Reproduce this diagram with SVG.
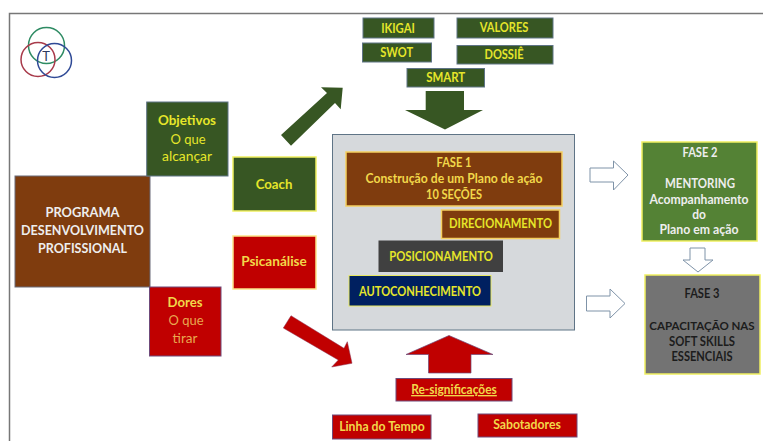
<svg xmlns="http://www.w3.org/2000/svg" width="763" height="441" viewBox="0 0 763 441">
<style>
text{font-family:"Lato","Carlito","Liberation Sans",sans-serif;text-anchor:middle;font-size:13.5px;font-weight:700}
.y{fill:#e6e62a}.o{fill:#f2d84a}.w{fill:#eeeeee}.k{fill:#1c1c1c}.t{fill:#e8a850}
.g{fill:#375623;stroke:#5f7486;stroke-width:1}
.gy{fill:#375623;stroke:#f0f060;stroke-width:1.5}
.r{fill:#c00000;stroke:#6f4a7a;stroke-width:1}
.ry{fill:#c00000;stroke:#fbe58a;stroke-width:1.5}
.b{fill:#7f3c0e;stroke:#6a6a78;stroke-width:1}
.by{fill:#7f3c0e;stroke:#f5d060;stroke-width:1.5}
.h{fill:#fff;stroke:#7f93a8;stroke-width:1}
.n{font-weight:400}
</style>
<rect width="763" height="441" fill="#fff"/>
<path d="M9.500 441V13.500H763" fill="none" stroke="#777" stroke-width="1.500"/>
<g id="logo" fill="none" stroke-width="1.500">
<circle cx="46.500" cy="45.500" r="18" stroke="#2e8b63"/>
<circle cx="38" cy="59.500" r="17" stroke="#a83a4a"/>
<circle cx="54.500" cy="60.500" r="17" stroke="#2f4a96"/>
<text x="46" y="61" style="font-size:13px;font-weight:400" fill="#2f3a60">T</text>
</g>
<g id="connectors">
<path fill="#375623" d="M281 135L327 93L321 87.300L342.700 87.700L340.700 109.300L335 103L291 145.700Z"/>
<path fill="#375623" d="M425.700 91H464V110H483L445 129.500L405 110H425.700Z"/>
<path fill="#c00000" stroke="#8a3050" stroke-width=".5" d="M283.300 328L291 315.700L344 348.300L347.300 341.700L352 363.300L331.700 367L338.300 360Z"/>
<path fill="#c00000" stroke="#6f4a7a" stroke-width=".7" d="M449 335.500L493 354.500H471V373H428.500V354.500H406Z"/>
<path class="h" d="M590 168H613.500V161L628 175L613.500 190V182H590Z"/>
<path class="h" d="M586.500 296H610V289L625 303.500L610 318V311H586.500Z"/>
<path class="h" d="M690 248H705V260H713L698 272L683 260H690Z"/>
</g>
<g id="programa"><rect class="b" x="15" y="176" width="135" height="111"/><text class="w" x="82.500" y="217" textLength="74" lengthAdjust="spacingAndGlyphs">PROGRAMA</text><text class="w" x="82.500" y="235" textLength="123" lengthAdjust="spacingAndGlyphs">DESENVOLVIMENTO</text><text class="w" x="82.500" y="252.700" textLength="89" lengthAdjust="spacingAndGlyphs">PROFISSIONAL</text></g>
<g id="objetivos"><rect class="g" x="146.700" y="102" width="81.300" height="74"/><text class="y" x="187" y="125" textLength="58" lengthAdjust="spacingAndGlyphs">Objetivos</text><text class="y n" x="188" y="143.500" textLength="35" lengthAdjust="spacingAndGlyphs">O que</text><text class="y n" x="187" y="161" textLength="50" lengthAdjust="spacingAndGlyphs">alcançar</text></g>
<g id="coach"><rect class="gy" x="233" y="157" width="83" height="54"/><text class="y" x="274" y="188.700" textLength="36.700" lengthAdjust="spacingAndGlyphs">Coach</text></g>
<g id="psicanalise"><rect class="ry" x="233" y="236" width="83" height="53"/><text class="o" x="274" y="266" textLength="65.700" lengthAdjust="spacingAndGlyphs">Psicanálise</text></g>
<g id="dores"><rect class="r" x="149.500" y="287" width="71.500" height="69"/><text class="o" x="185" y="307" textLength="35" lengthAdjust="spacingAndGlyphs">Dores</text><text class="t n" x="186" y="325" textLength="35" lengthAdjust="spacingAndGlyphs">O que</text><text class="t n" x="185" y="343" textLength="25" lengthAdjust="spacingAndGlyphs">tirar</text></g>
<g id="ikigai"><rect class="g" x="363" y="18" width="71" height="20"/><text class="y" x="398" y="32.700" textLength="33.700" lengthAdjust="spacingAndGlyphs">IKIGAI</text></g>
<g id="valores"><rect class="g" x="457" y="18" width="96" height="20"/><text class="y" x="504" y="32" textLength="48.700" lengthAdjust="spacingAndGlyphs">VALORES</text></g>
<g id="swot"><rect class="g" x="362.500" y="43" width="69" height="19"/><text class="y" x="396.700" y="57" textLength="32.700" lengthAdjust="spacingAndGlyphs">SWOT</text></g>
<g id="dossie"><rect class="g" x="457" y="45.500" width="96" height="18.500"/><text class="y" x="504" y="59" textLength="39" lengthAdjust="spacingAndGlyphs">DOSSIÊ</text></g>
<g id="smart"><rect class="g" x="407" y="68.500" width="77.500" height="18.500"/><text class="y" x="445.700" y="81.700" textLength="39" lengthAdjust="spacingAndGlyphs">SMART</text></g>
<g id="panel"><rect x="332.500" y="134.500" width="242" height="195.500" fill="#d6d9dc" stroke="#5f7486" stroke-width="1"/></g>
<g id="fase1"><rect class="by" x="346" y="152" width="216" height="54"/><text class="o" x="454" y="167" textLength="35" lengthAdjust="spacingAndGlyphs">FASE 1</text><text class="o" x="454" y="182.500" textLength="177" lengthAdjust="spacingAndGlyphs">Construção de um Plano de ação</text><text class="o" x="454" y="199" textLength="56" lengthAdjust="spacingAndGlyphs">10 SEÇÕES</text></g>
<g id="direcionamento"><rect class="by" x="441.500" y="210" width="118" height="28.500"/><text class="y" x="500.500" y="228" textLength="103" lengthAdjust="spacingAndGlyphs">DIRECIONAMENTO</text></g>
<g id="posicionamento"><rect x="378.500" y="240.500" width="124.500" height="31.500" fill="#404040"/><text class="y" x="441" y="260.700" textLength="103.500" lengthAdjust="spacingAndGlyphs">POSICIONAMENTO</text></g>
<g id="autoconhecimento"><rect x="349" y="275.500" width="142" height="30.500" fill="#002060" stroke="#e8e860" stroke-width="1"/><text class="y" x="420" y="296" textLength="122" lengthAdjust="spacingAndGlyphs">AUTOCONHECIMENTO</text></g>
<g id="resignificacoes"><rect class="r" x="396" y="378.500" width="116" height="22.500"/><text class="o" x="454" y="394" textLength="85.700" lengthAdjust="spacingAndGlyphs" text-decoration="underline">Re-significações</text></g>
<g id="linha"><rect class="r" x="332.500" y="415" width="98.500" height="24"/><text class="o" x="382" y="431" textLength="85.700" lengthAdjust="spacingAndGlyphs">Linha do Tempo</text></g>
<g id="sabotadores"><rect class="r" x="478" y="414" width="99" height="23"/><text class="o" x="527" y="429" textLength="67.700" lengthAdjust="spacingAndGlyphs">Sabotadores</text></g>
<g id="fase2"><rect x="642" y="142" width="115" height="99" fill="#548235" stroke="#f0f060" stroke-width="1.500"/><text class="w" x="700" y="156.700" textLength="35" lengthAdjust="spacingAndGlyphs">FASE 2</text><text class="w" x="700" y="187.700" textLength="70" lengthAdjust="spacingAndGlyphs">MENTORING</text><text class="w" x="699" y="204" textLength="99" lengthAdjust="spacingAndGlyphs">Acompanhamento</text><text class="w" x="699" y="219" textLength="13.700" lengthAdjust="spacingAndGlyphs">do</text><text class="w" x="699" y="234" textLength="79" lengthAdjust="spacingAndGlyphs">Plano em ação</text></g>
<g id="fase3"><rect x="645" y="275" width="115" height="99" fill="#737373" stroke="#f0f060" stroke-width="1.500"/><text class="k" x="702" y="298" textLength="35" lengthAdjust="spacingAndGlyphs">FASE 3</text><text class="k" x="702" y="330" style="font-size:11.500px">CAPACITAÇÃO NAS</text><text class="k" x="702" y="346" textLength="66" lengthAdjust="spacingAndGlyphs">SOFT SKILLS</text><text class="k" x="702" y="360.700" textLength="61" lengthAdjust="spacingAndGlyphs">ESSENCIAIS</text></g>
</svg>
